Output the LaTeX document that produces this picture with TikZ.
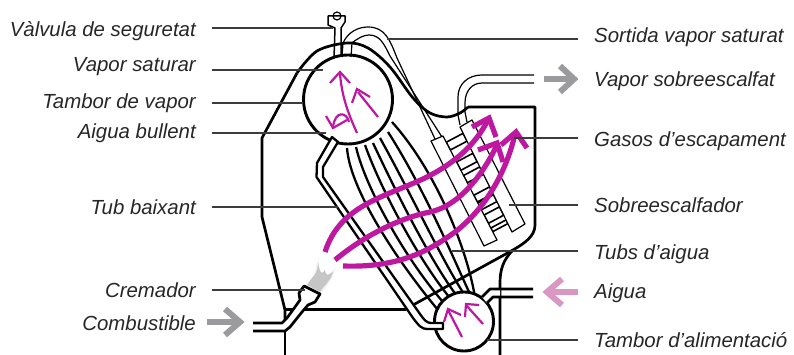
\documentclass[tikz,border=0pt]{standalone}
\usepackage{fontspec}
\setmainfont{Liberation Sans}
\usetikzlibrary{calc}
\usetikzlibrary{arrows.meta}
\definecolor{flue}{RGB}{190,24,160}
\definecolor{darrow}{RGB}{155,155,158}
\definecolor{parrow}{RGB}{217,152,196}
\definecolor{leadgray}{RGB}{60,60,60}
\tikzset{
    wall/.style={line width=2.7pt,black,line join=round},
    drum/.style={draw=black,line width=2.9pt,fill=white,circle,inner sep=0pt},
    tube/.style={line width=2.3pt,black,line join=round},
    thinpipe/.style={line width=1.2pt,black,line join=round},
    rung/.style={line width=1.6pt,black,fill=white,line join=round},
    leader/.style={line width=1.2pt,leadgray},
    flow/.style={line width=2.2pt,flue},
    fluearrow/.style={line width=5.2pt,flue},
    bigarrow/.style={line width=6pt},
    lblleft/.style={anchor=east,inner xsep=16pt,inner ysep=0pt,text=black!85,font=\fontsize{20.4}{23}\selectfont\itshape},
    lblright/.style={anchor=west,inner xsep=16pt,inner ysep=0pt,text=black!85,font=\fontsize{20.4}{23}\selectfont\itshape}
}
\begin{document}
\begin{tikzpicture}[x=1pt,y=-1pt]
\useasboundingbox (0,0) rectangle (794,355);

% housing
\draw[wall] (468,107) -- (535,107) -- (535,225)
    .. controls (535,236) and (525,243) .. (513,250) -- (413,305);
\draw[wall] (513,250) .. controls (503,260) and (500,270) .. (500,283) -- (500,355);
\draw[wall] plot[smooth,tension=0.55] coordinates {(297,73) (317,51) (347,43) (368,48) (390,67) (413,98) (430,113) (447,117) (460,113) (468,107)};
\draw[wall] (297,73) -- (262,138) -- (262,217) -- (285,310) -- (285,323);
\draw[wall] (285,331) -- (285,355);
\draw[wall] (285,309.5) -- (408,309.5);

% tubs d'aigua
\foreach \sx/\sy/\ax/\ay/\bx/\by/\ex/\ey in {
    347/148/350/190/398/262/438/310,
    356/147/366/190/408/262/443/302,
    365/145/381/190/420/262/450/298,
    373/143/395/190/431/262/457/296,
    380/138/409/190/443/262/464/294,
    388/132/424/188/455/262/470/294,
    392/122/442/178/470/262/475/298}{
    \draw[tube] (\sx,\sy) .. controls (\ax,\ay) and (\bx,\by) .. (\ex,\ey);
}

% tambors
\node[drum,minimum size=89pt] (drumtop) at (348,99.5) {};
\node[drum,minimum size=59pt] (drumlow) at (464,321.5) {};

% tub baixant
\fill[white] (332,137) -- (317,163) -- (316,177) -- (413,320) -- (420,325) -- (427,329) -- (443,329) -- (443,323) -- (428,323) -- (420,313) -- (323,177) -- (323,167) -- (338,142) -- cycle;
\draw[tube] (332,137) -- (317,163) -- (316.5,177) -- (413,318) .. controls (419,326) and (422,329) .. (427,329) -- (443,329) -- (443,323) -- (431,323)
    .. controls (427,323) and (424,320) .. (420,314) -- (323,177) -- (323,167) -- (338,142) -- cycle;

% entrada d'aigua
\fill[white] (482,297) -- (490,289) -- (500,289) -- (500,297) -- (493,297) -- (487,303) -- cycle;
\draw[wall] (482,297) -- (490,289) -- (533,289);
\draw[wall] (487,303) -- (493,297) -- (533,297);

% cremador
\fill[white] (304,286) -- (320,294) -- (315,302) -- (308,305) -- (302,312) -- (290,327) -- (285,331) -- (270,331) -- (270,323) -- (282,323) -- (287,318) -- (295,307) -- (300,300) -- (299,293) -- cycle;
\draw[wall] (253,331) -- (285,331) -- (290,327) -- (302,312) -- (308,305) -- (315,302) -- (320,294) -- (304,286) -- (299,293) -- (300,300) -- (295,307) -- (287,318) -- (282,323) -- (253,323);
\fill[gray!12] (319,255) .. controls (317,268) and (318,274) .. (318,282) -- (336,268) .. controls (332,280) and (328,285) .. (322,292) -- (312,285) -- cycle;
\fill[gray!45] (307,285) .. controls (312,276) and (318,275) .. (318,262) .. controls (320,272) and (321,276) .. (325,270) .. controls (326,276) and (327,276) .. (333,272) .. controls (330,282) and (325,284) .. (320,292) -- cycle;

% valvula
\draw[thinpipe,line width=1.5pt] (334,58) -- (335,28) -- (328,25) -- (328,16) -- (345,16) -- (345,22) -- (341,28) -- (341,57);
\draw[thinpipe] (337,16) circle (4pt);

% vapor saturat
\draw[thinpipe] (342,57) -- (343,43) .. controls (348,32) and (358,27) .. (368,27) .. controls (385,27) and (390,40) .. (397,58) -- (435,139);
\draw[thinpipe] (351,57) -- (352,43) .. controls (358,38) and (364,35) .. (369,35) .. controls (380,35) and (384,44) .. (390,56) -- (442,137);

% sobreescalfador
\path (431,141) coordinate (sa1) (443,136) coordinate (sa2) (497,240) coordinate (sa3) (484,246) coordinate (sa4)
      (460,127) coordinate (sb1) (472,120) coordinate (sb2) (525,224) coordinate (sb3) (512,232) coordinate (sb4);
\draw[thinpipe] (460,125) -- (458,115) -- (458,97) .. controls (458,84) and (468,75) .. (482,75) -- (534,75);
\draw[thinpipe] (467,122) -- (465,112) -- (465,103) .. controls (465,91) and (472,83) .. (482,83) -- (534,83);
\foreach \ta/\tb in {.06/.135,.25/.33,.38/.45,.57/.635,.645/.71,.76/.84,.885/.92}{
    \draw[rung] ($(sa2)!\ta!(sa3)$) -- ($(sb1)!\ta!(sb4)$) -- ($(sb1)!\tb!(sb4)$) -- ($(sa2)!\tb!(sa3)$) -- cycle;
}
\draw[thinpipe,fill=white] (sa1) -- (sa2) -- (sa3) -- (sa4) -- cycle;
\draw[thinpipe,fill=white] (sb1) -- (sb2) -- (sb3) -- (sb4) -- cycle;

% gasos
\draw[fluearrow] (325,252) .. controls (340,205) and (385,197) .. (425,178) .. controls (455,163) and (475,145) .. (488,120);
\draw[fluearrow] (472,127) -- (489,118) -- (496,137);
\draw[fluearrow] (335,260) .. controls (365,235) and (400,218) .. (430,212) .. controls (462,205) and (485,170) .. (497,145);
\draw[fluearrow] (478,150) -- (497,143) -- (503,162);
\draw[fluearrow] (343,266) .. controls (400,268) and (430,250) .. (455,232) .. controls (490,205) and (508,165) .. (515,134);
\draw[fluearrow] (501,145) -- (516,132) -- (527,148);

% aigua i vapor dins dels tambors
\draw[flow] (357,133) .. controls (348,113) and (342,97) .. (340,74);
\draw[flow] (330,83) -- (340,72) -- (350,83);
\draw[flow] (378,117) -- (358,92);
\draw[flow] (352,103) -- (357,89) -- (370,97);
\draw[flow] (349,122) .. controls (347,112) and (335,110) .. (333,127);
\draw[flow] (326,116) -- (333,128) -- (347,120);
\draw[flow] (462,337) -- (448,310);
\draw[flow] (444,322) -- (448,309) -- (461,315);
\draw[flow] (483,324) -- (466,305);
\draw[flow] (465,317) -- (466,304) -- (479,305);

% fletxes
\draw[bigarrow,darrow] (544,79) -- (573,79);
\draw[bigarrow,darrow] (560,66) -- (574,79) -- (560,92);
\draw[bigarrow,darrow] (207,322) -- (239,322);
\draw[bigarrow,darrow] (225,309) -- (240,322) -- (225,335);
\draw[bigarrow,parrow] (578,292) -- (548,292);
\draw[bigarrow,parrow] (562,279) -- (547,292) -- (562,305);

% etiquetes
\node[lblleft] (lblvalvula) at (212,31) {Vàlvula de seguretat};
\node[lblleft] (lblsaturar) at (212,67) {Vapor saturar};
\node[lblleft] (lbltambor) at (212,103) {Tambor de vapor};
\node[lblleft] (lblbullent) at (212,133) {Aigua bullent};
\node[lblleft] (lblbaixant) at (212,207) {Tub baixant};
\node[lblleft] (lblcremador) at (212,290) {Cremador};
\node[lblleft] (lblcombustible) at (212,323) {Combustible};
\node[lblright] (lblsortida) at (578,37) {Sortida vapor saturat};
\node[lblright] (lblsobre) at (578,81) {Vapor sobreescalfat};
\node[lblright] (lblgasos) at (578,141) {Gasos d’escapament};
\node[lblright] (lblsobreesc) at (578,205) {Sobreescalfador};
\node[lblright] (lbltubs) at (578,254) {Tubs d’aigua};
\node[lblright] (lblaigua) at (578,293) {Aigua};
\node[lblright] (lblalim) at (578,340) {Tambor d’alimentació};

% linies guia
\path (333,28) coordinate (pvalvula) (323,70) coordinate (psaturar) (303,103) coordinate (ptambor)
      (326,133) coordinate (pbullent) (338,207) coordinate (pbaixant) (305,290) coordinate (pcremador)
      (387,39) coordinate (psortida) (514,138) coordinate (pgasos) (509,205) coordinate (psobreesc)
      (452,251) coordinate (ptubs) (487,340) coordinate (palim);
\foreach \lbl/\pt in {lblvalvula/pvalvula,lblsaturar/psaturar,lbltambor/ptambor,lblbullent/pbullent,lblbaixant/pbaixant,lblcremador/pcremador}{
    \draw[leader] (\lbl.east |- \pt) -- (\pt);
}
\foreach \lbl/\pt in {lblsortida/psortida,lblgasos/pgasos,lblsobreesc/psobreesc,lbltubs/ptubs,lblalim/palim}{
    \draw[leader] (\lbl.west |- \pt) -- (\pt);
}
\end{tikzpicture}
\end{document}
